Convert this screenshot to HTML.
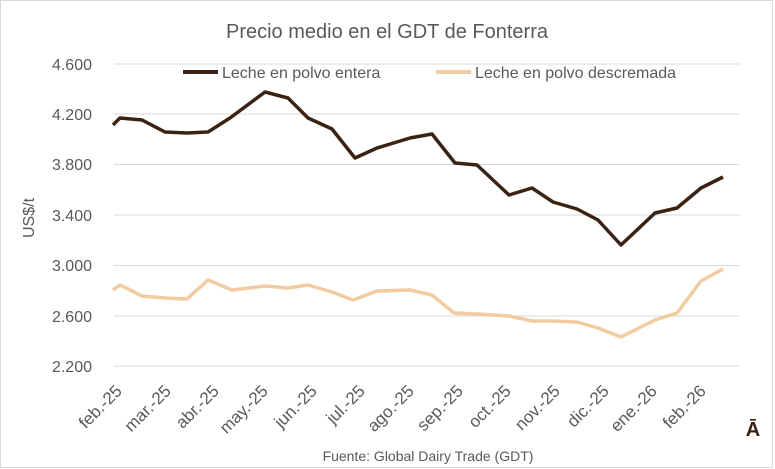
<!DOCTYPE html>
<html><head><meta charset="utf-8"><style>
body{margin:0;background:#fff}
svg{display:block;font-family:"Liberation Sans",sans-serif}
</style></head><body>
<svg width="775" height="469" viewBox="0 0 775 469">
<rect x="0.5" y="0.5" width="772" height="467" fill="#fff" stroke="#d9d9d9"/>
<text x="387" y="38" font-size="20" fill="#595959" text-anchor="middle">Precio medio en el GDT de Fonterra</text>
<g stroke="#d9d9d9" stroke-width="1">
<line x1="114" x2="740" y1="64" y2="64"/><line x1="114" x2="740" y1="114" y2="114"/>
<line x1="114" x2="740" y1="164.5" y2="164.5"/><line x1="114" x2="740" y1="215" y2="215"/>
<line x1="114" x2="740" y1="265.5" y2="265.5"/><line x1="114" x2="740" y1="316" y2="316"/>
<line x1="114" x2="740" y1="366" y2="366"/></g>
<g font-size="16" fill="#595959" text-anchor="end">
<text x="92" y="70">4.600</text><text x="92" y="120">4.200</text><text x="92" y="170">3.800</text>
<text x="92" y="221">3.400</text><text x="92" y="271">3.000</text><text x="92" y="322">2.600</text><text x="92" y="372">2.200</text></g>
<text transform="translate(34,218) rotate(-90)" font-size="16" fill="#595959" text-anchor="middle">US$/t</text>
<line x1="183" x2="218" y1="72" y2="72" stroke="#3b2314" stroke-width="4"/>
<text x="222" y="78" font-size="16" fill="#595959">Leche en polvo entera</text>
<line x1="436" x2="471" y1="72" y2="72" stroke="#f3cba0" stroke-width="4"/>
<text x="475" y="78" font-size="16" fill="#595959">Leche en polvo descremada</text>
<polyline fill="none" stroke="#3b2314" stroke-width="3.5" stroke-linejoin="round" points="113,125 120,118 142,120 165,132 187,133 208,132 230,118 265,92 288,98 308,118 332,129 355,158 377,148 410,138 432,134 455,163 477,165 509,195 532,188 553,202 577,209 598,220 621,245 655,213 677,208 701,188 723,177"/>
<polyline fill="none" stroke="#f3cba0" stroke-width="3.5" stroke-linejoin="round" points="113,290 120,285 142,296 165,298 187,299 208,280 232,290 265,286 288,288 308,285 332,292 353,300 377,291 410,290 432,295 454,313 477,314 509,316 532,321 554,321 577,322 598,328 621,337 655,320 677,313 701,281 723,269"/>
<g font-size="17" fill="#595959" text-anchor="end">
<text transform="translate(123,392) rotate(-45)">feb.-25</text>
<text transform="translate(172,392) rotate(-45)">mar.-25</text>
<text transform="translate(220,392) rotate(-45)">abr.-25</text>
<text transform="translate(269,392) rotate(-45)">may.-25</text>
<text transform="translate(318,392) rotate(-45)">jun.-25</text>
<text transform="translate(366,392) rotate(-45)">jul.-25</text>
<text transform="translate(415,392) rotate(-45)">ago.-25</text>
<text transform="translate(464,392) rotate(-45)">sep.-25</text>
<text transform="translate(512,392) rotate(-45)">oct.-25</text>
<text transform="translate(561,392) rotate(-45)">nov.-25</text>
<text transform="translate(610,392) rotate(-45)">dic.-25</text>
<text transform="translate(658,392) rotate(-45)">ene.-26</text>
<text transform="translate(707,392) rotate(-45)">feb.-26</text></g>
<text x="753" y="436" font-size="20" font-weight="bold" fill="#3b2314" text-anchor="middle">Ā</text>
<text x="428" y="461" font-size="14" fill="#595959" text-anchor="middle">Fuente: Global Dairy Trade (GDT)</text>
</svg>
</body></html>
